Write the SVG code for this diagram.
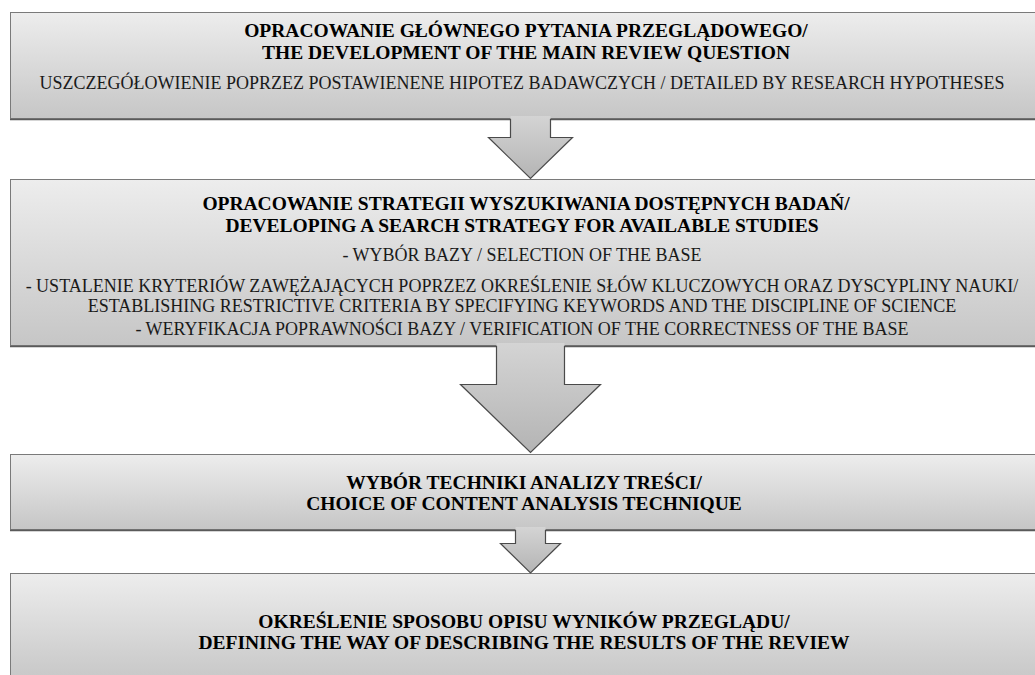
<svg xmlns="http://www.w3.org/2000/svg" width="1035" height="675" viewBox="0 0 1035 675">
<defs>
<linearGradient id="boxg" x1="0" y1="0" x2="0" y2="1">
<stop offset="0" stop-color="#ededed"/>
<stop offset="1" stop-color="#c6c6c6"/>
</linearGradient>
<linearGradient id="arrg" x1="0" y1="0" x2="0" y2="1">
<stop offset="0" stop-color="#d4d4d4"/>
<stop offset="1" stop-color="#b4b4b4"/>
</linearGradient>
<style>
.box{fill:url(#boxg);stroke:#7a7a7a;stroke-width:1}
.shadow{stroke:#5a5a5a;stroke-width:1.5}
.arrf{fill:url(#arrg);stroke:none}
.arrs{fill:none;stroke:#4a4a4a;stroke-width:1.2;stroke-linejoin:miter}
.b{font-family:"Liberation Serif",serif;font-weight:bold;font-size:19.5px;fill:#000;text-anchor:middle}
.r{font-family:"Liberation Serif",serif;font-size:18px;fill:#1a1a1a;text-anchor:middle}
</style>
</defs>
<rect width="1035" height="675" fill="#fff"/>
<g id="node1">
<rect class="box" x="10.5" y="12.5" width="1040" height="106"/>
<line class="shadow" x1="10" y1="119.5" x2="1035" y2="119.5"/>
<text class="b" x="526" y="37">OPRACOWANIE GŁÓWNEGO PYTANIA PRZEGLĄDOWEGO/</text>
<text class="b" x="526" y="59">THE DEVELOPMENT OF THE MAIN REVIEW QUESTION</text>
<text class="r" x="522" y="89">USZCZEGÓŁOWIENIE POPRZEZ POSTAWIENENE HIPOTEZ BADAWCZYCH / DETAILED BY RESEARCH HYPOTHESES</text>
</g>
<g id="node2">
<rect class="box" x="10.5" y="179.5" width="1040" height="166"/>
<line class="shadow" x1="10" y1="346.5" x2="1035" y2="346.5"/>
<text class="b" x="526" y="210">OPRACOWANIE STRATEGII WYSZUKIWANIA DOSTĘPNYCH BADAŃ/</text>
<text class="b" x="522" y="232">DEVELOPING A SEARCH STRATEGY FOR AVAILABLE STUDIES</text>
<text class="r" x="522" y="261">- WYBÓR BAZY / SELECTION OF THE BASE</text>
<text class="r" x="522" y="292">- USTALENIE KRYTERIÓW ZAWĘŻAJĄCYCH POPRZEZ OKREŚLENIE SŁÓW KLUCZOWYCH ORAZ DYSCYPLINY NAUKI/</text>
<text class="r" x="522" y="312">ESTABLISHING RESTRICTIVE CRITERIA BY SPECIFYING KEYWORDS AND THE DISCIPLINE OF SCIENCE</text>
<text class="r" x="522" y="335">- WERYFIKACJA POPRAWNOŚCI BAZY / VERIFICATION OF THE CORRECTNESS OF THE BASE</text>
</g>
<g id="node3">
<rect class="box" x="10.5" y="454.5" width="1040" height="75"/>
<line class="shadow" x1="10" y1="530.5" x2="1035" y2="530.5"/>
<text class="b" x="524" y="489">WYBÓR TECHNIKI ANALIZY TREŚCI/</text>
<text class="b" x="524" y="510">CHOICE OF CONTENT ANALYSIS TECHNIQUE</text>
</g>
<g id="node4">
<rect class="box" x="10.5" y="573.5" width="1040" height="110"/>
<text class="b" x="524" y="628">OKREŚLENIE SPOSOBU OPISU WYNIKÓW PRZEGLĄDU/</text>
<text class="b" x="524" y="649">DEFINING THE WAY OF DESCRIBING THE RESULTS OF THE REVIEW</text>
</g>
<g id="connectors">
<polygon class="arrf" points="510.5,116 550.5,116 550.5,137.5 572.5,137.5 530.5,178.5 488.5,137.5 510.5,137.5"/>
<polyline class="arrs" points="510.5,119 510.5,137.5 488.5,137.5 530.5,178.5 572.5,137.5 550.5,137.5 550.5,119"/>
<polygon class="arrf" points="496.5,343 564.5,343 564.5,384.5 600.5,384.5 530.5,452.5 460.5,384.5 496.5,384.5"/>
<polyline class="arrs" points="496.5,346 496.5,384.5 460.5,384.5 530.5,452.5 600.5,384.5 564.5,384.5 564.5,346"/>
<polygon class="arrf" points="515.5,527 545.5,527 545.5,543.5 560.5,543.5 530.5,573 500.5,543.5 515.5,543.5"/>
<polyline class="arrs" points="515.5,530 515.5,543.5 500.5,543.5 530.5,573 560.5,543.5 545.5,543.5 545.5,530"/>
</g>
</svg>
